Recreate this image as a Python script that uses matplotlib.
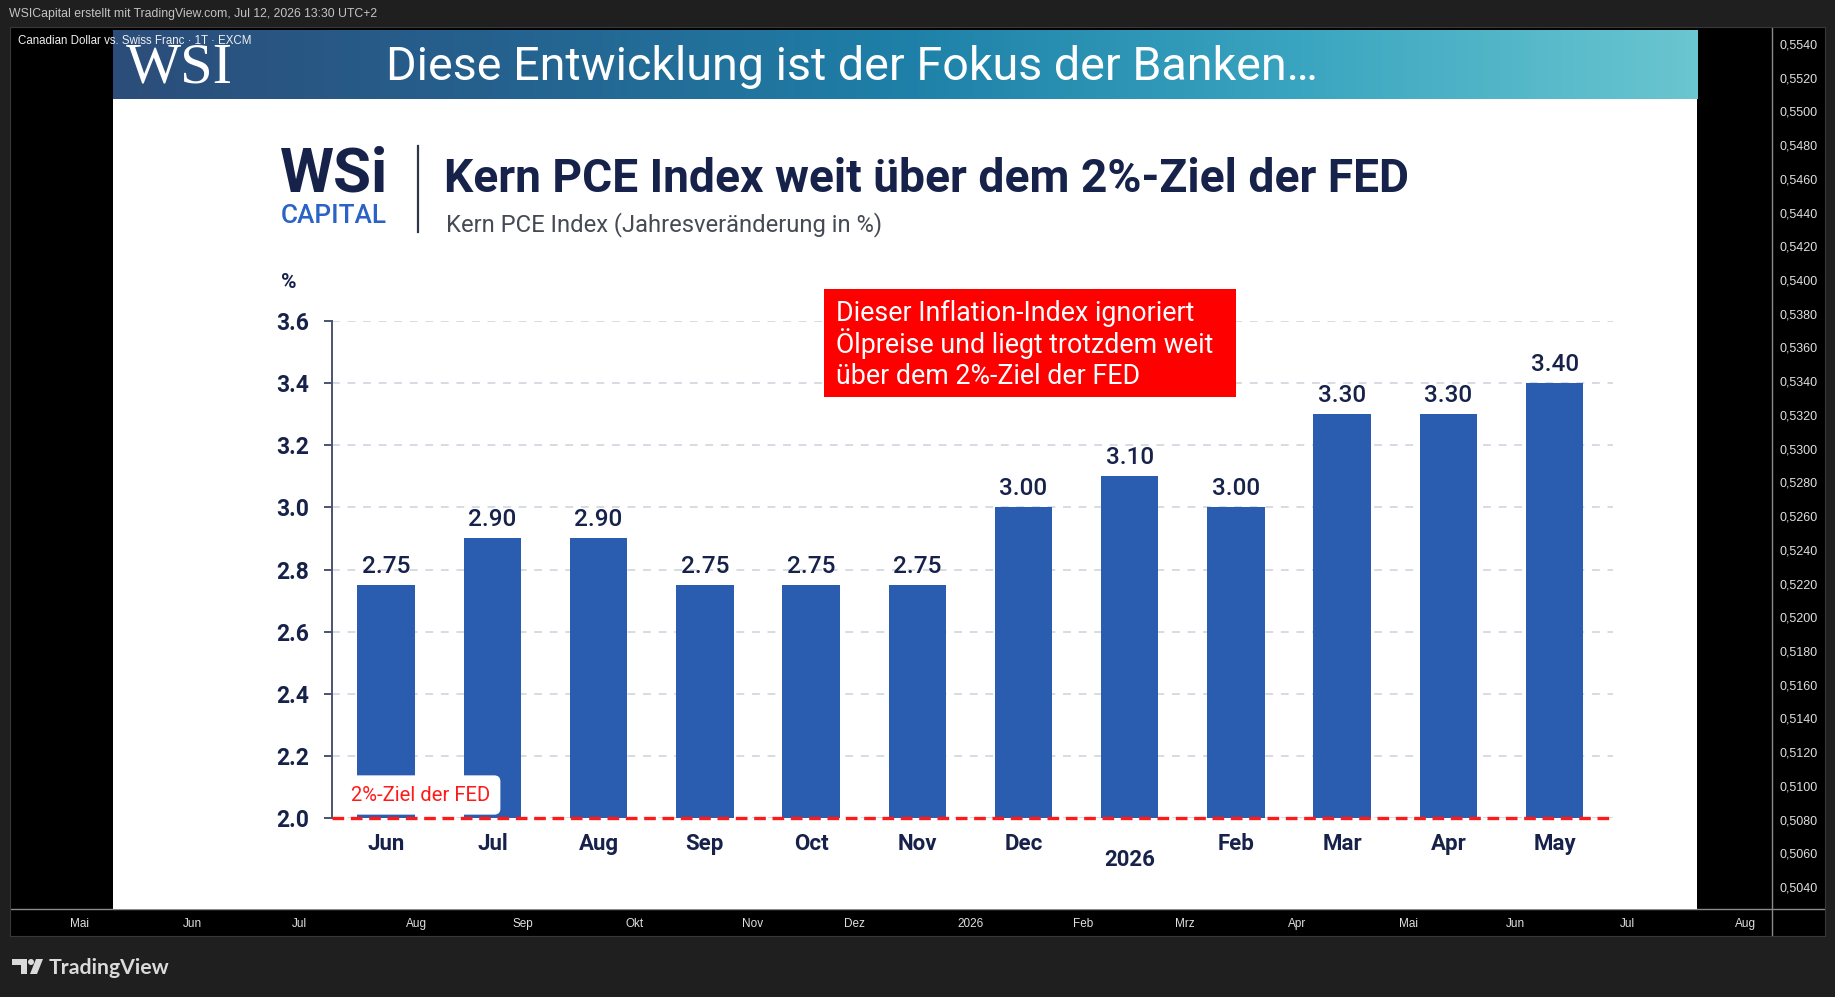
import numpy as np
import matplotlib
matplotlib.use("Agg")
import matplotlib.pyplot as plt
from matplotlib.colors import LinearSegmentedColormap
from matplotlib.patches import Rectangle, Circle, Polygon
from matplotlib.ticker import FuncFormatter
from matplotlib.transforms import ScaledTranslation

W, H = 1835, 997

# --- data -------------------------------------------------------------
months = ["Jun", "Jul", "Aug", "Sep", "Oct", "Nov", "Dec", "2026", "Feb", "Mar", "Apr", "May"]
values = [2.75, 2.90, 2.90, 2.75, 2.75, 2.75, 3.00, 3.10, 3.00, 3.30, 3.30, 3.40]
value_labels = ["2.75", "2.90", "2.90", "2.75", "2.75", "2.75", "3.00", "3.10", "3.00", "3.30", "3.30", "3.40"]
pce_ticks = [2.0, 2.2, 2.4, 2.6, 2.8, 3.0, 3.2, 3.4, 3.6]
fed_target = 2.0

note_lines = ["Dieser Inflation-Index ignoriert",
              "Ölpreise und liegt trotzdem weit",
              "über dem 2%-Ziel der FED"]

# TradingView frame (CAD/CHF daily)
price_ticks = [0.5040, 0.5060, 0.5080, 0.5100, 0.5120, 0.5140, 0.5160, 0.5180, 0.5200,
               0.5220, 0.5240, 0.5260, 0.5280, 0.5300, 0.5320, 0.5340, 0.5360, 0.5380,
               0.5400, 0.5420, 0.5440, 0.5460, 0.5480, 0.5500, 0.5520, 0.5540]
time_dates = ["2025-05-01", "2025-06-01", "2025-07-01", "2025-08-01", "2025-09-01",
              "2025-10-01", "2025-11-01", "2025-12-01", "2026-01-01", "2026-02-01",
              "2026-03-01", "2026-04-01", "2026-05-01", "2026-06-01", "2026-07-01",
              "2026-08-01"]
time_labels = ["Mai", "Jun", "Jul", "Aug", "Sep", "Okt", "Nov", "Dez", "2026", "Feb",
               "Mrz", "Apr", "Mai", "Jun", "Jul", "Aug"]

FONT = "Roboto"
NAVY = "#17224a"
BAR = "#2a5caf"


def frect(x0, y0, x1, y1):
    return [x0 / W, 1 - y1 / H, (x1 - x0) / W, (y1 - y0) / H]


def pixel_axes(x0, y0, x1, y1, face="none"):
    a = fig.add_axes(frect(x0, y0, x1, y1))
    a.set_facecolor(face)
    for s in a.spines.values():
        s.set_visible(False)
    a.set_xticks([])
    a.set_yticks([])
    a.set_xlim(x0, x1)
    a.set_ylim(y1, y0)
    return a


fig = plt.figure(figsize=(W / 100, H / 100), dpi=100, facecolor="#1f1f1f")

fig.text(9 / W, 1 - 14 / H, "WSICapital erstellt mit TradingView.com, Jul 12, 2026 13:30 UTC+2",
         color="#c4c4c4", fontsize=8.8, family="Liberation Sans", va="center", ha="left")

# chart pane + scales
panel = fig.add_axes(frect(10, 27, 1825, 936))
panel.set_facecolor("black")
panel.set_xlim(10, 1825)
panel.set_ylim(936, 27)
panel.set_xticks([])
panel.set_yticks([])
for s in panel.spines.values():
    s.set_color("#383838")
panel.plot([1772, 1772], [27, 936], color="#8a8a8a", lw=1)
panel.plot([10, 1825], [909, 909], color="#8a8a8a", lw=1)

tv = fig.add_axes(frect(10, 27, 1772, 909))
tv.set_facecolor("none")
for s in tv.spines.values():
    s.set_visible(False)
bidx = np.busday_count("2025-01-01", np.array(time_dates, dtype="datetime64[D]"))
ppb = (1745 - 80) / (bidx[-1] - bidx[0])
x_left = bidx[0] - (80 - 10) / ppb
tv.set_xlim(x_left, x_left + (1772 - 10) / ppb)
tv.set_xticks(bidx)
tv.set_xticklabels(time_labels)
ppu = (887 - 44) / (price_ticks[-1] - price_ticks[0])
tv.set_ylim(price_ticks[0] - (909 - 887) / ppu, price_ticks[-1] + (44 - 27) / ppu)
tv.yaxis.tick_right()
tv.set_yticks(price_ticks)
tv.yaxis.set_major_formatter(FuncFormatter(lambda v, p: f"{v:.4f}".replace(".", ",")))
tv.tick_params(axis="y", length=0, pad=5.5, labelsize=9, labelcolor="#e0e0e0")
tv.tick_params(axis="x", length=0, pad=6.5, labelsize=8.5, labelcolor="#e0e0e0")
for lab in tv.get_yticklabels() + tv.get_xticklabels():
    lab.set_family("Liberation Sans")

# embedded picture
img = pixel_axes(113, 30, 1697, 909, face="white")
cmap = LinearSegmentedColormap.from_list("banner", ["#2c4d7a", "#25628f", "#1e80a8", "#3aa5c0", "#6ac6d0"])
img.imshow(np.linspace(0, 1, 256).reshape(1, -1), extent=(113, 1697, 99, 30), aspect="auto", cmap=cmap)
img.set_xlim(113, 1697)
img.set_ylim(909, 30)
img.text(126, 82, "WSI", family="Liberation Serif", fontsize=42, color="white", va="baseline")
img.text(386, 80, "Diese Entwicklung ist der Fokus der Banken…", family=FONT, fontsize=33.6,
         color="white", va="baseline")

img.text(280, 191, "WSi", family=FONT, weight="bold", fontsize=44.5, color=NAVY, va="baseline")
img.text(281, 223, "CAPITAL", family=FONT, weight="medium", fontsize=18.8, color="#2b63c4", va="baseline")
img.plot([418, 418], [146, 232], color="#2f3645", lw=1.6)
img.text(444, 192, "Kern PCE Index weit über dem 2%-Ziel der FED", family=FONT, weight="bold",
         fontsize=33.2, color=NAVY, va="baseline")
img.text(446, 231, "Kern PCE Index (Jahresveränderung in %)", family=FONT, fontsize=17.1,
         color="#454a55", va="baseline")
img.text(281, 288, "%", family=FONT, weight="bold", fontsize=15, color=NAVY, va="baseline")

# bar chart
ax = fig.add_axes(frect(332, 321, 1613, 818))
ax.set_facecolor("none")
x = np.arange(len(months))
ax.bar(x, values, width=0.54, color=BAR, zorder=2)
ax.set_xlim(-0.51, 11.55)
ax.set_ylim(pce_ticks[0], pce_ticks[-1])
ax.set_yticks(pce_ticks)
ax.set_yticklabels([f"{t:.1f}" for t in pce_ticks])
ax.set_xticks(x)
ax.set_xticklabels(months)
for s in ["top", "right", "bottom"]:
    ax.spines[s].set_visible(False)
ax.spines["left"].set_color("#4a5470")
ax.spines["left"].set_linewidth(1.4)
ax.tick_params(axis="y", length=6, width=1.4, color="#4a5470", pad=10.5, labelsize=16.5, labelcolor=NAVY)
ax.tick_params(axis="x", length=0, pad=10.5, labelsize=16, labelcolor=NAVY)
for lab in ax.get_yticklabels() + ax.get_xticklabels():
    lab.set_family(FONT)
    lab.set_weight("bold")
lab26 = ax.get_xticklabels()[months.index("2026")]
lab26.set_transform(lab26.get_transform() + ScaledTranslation(0, -16 / 100, fig.dpi_scale_trans))
ax.grid(axis="y", color="#d6dae3", lw=1.4, ls=(0, (4, 4)), zorder=1)
ax.set_axisbelow(True)
ax.axhline(fed_target, color="#ff1a1a", lw=2.4, ls=(0, (3.5, 2)), zorder=6, clip_on=False)

for xi, v, lab in zip(x, values, value_labels):
    ax.annotate(lab, (xi, v), xytext=(0, 12), textcoords="offset pixels", ha="center",
                va="baseline", family=FONT, weight="medium", fontsize=17.5, color=NAVY, zorder=3)

ax.annotate("2%-Ziel der FED", xy=(0, 0), xycoords="axes fraction", xytext=(19, 23),
            textcoords="offset pixels", ha="left", va="center", family=FONT, fontsize=14.6,
            color="#ff1a1a", zorder=5,
            bbox=dict(boxstyle="round,pad=0.5,rounding_size=0.3", fc="white", ec="none"))

# red note box on top of the grid
over = pixel_axes(113, 30, 1697, 909)
over.add_patch(Rectangle((824, 289), 412, 108, fc="#ff0000", ec="none"))
for i, line in enumerate(note_lines):
    over.text(836, 321 + i * 31.5, line, family=FONT, fontsize=19.3, color="white", va="baseline")

fig.text(18 / W, 1 - 41 / H, "Canadian Dollar vs. Swiss Franc · 1T · EXCM", color="#f0f0f0",
         fontsize=8.3, family="Liberation Sans", va="center", ha="left")

# TradingView footer
foot = pixel_axes(0, 940, W, H)
foot.set_axis_off()
foot.add_patch(Polygon([(12, 959), (27, 959), (27, 974), (21, 974), (21, 965), (12, 965)], fc="#dadada"))
foot.add_patch(Circle((31, 962), 3, fc="#dadada"))
foot.add_patch(Polygon([(36, 959), (43, 959), (37, 974), (30, 974)], fc="#dadada"))
foot.text(49, 974, "TradingView", family="Lato", weight="bold", fontsize=15.3, color="#dadada", va="baseline")

fig.savefig("out.png", dpi=100, facecolor=fig.get_facecolor())
